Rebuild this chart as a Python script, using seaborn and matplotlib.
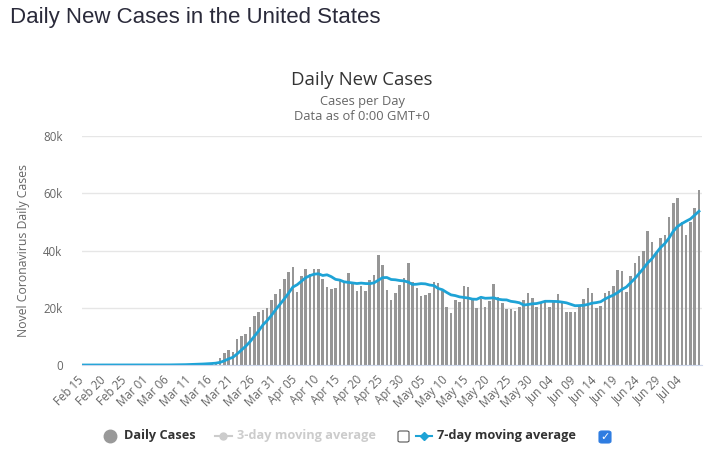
import numpy as np
import pandas as pd
import seaborn as sns
import matplotlib.pyplot as plt
import matplotlib.transforms as mtransforms
from matplotlib.lines import Line2D
from matplotlib.patches import FancyBboxPatch

# Daily new cases in the US, Feb 15 - Jul 8 2020
cases_feb = [0, 0, 0, 0, 0, 0, 2, 0, 0, 18, 0, 6, 1, 2, 8]
cases_mar = [8, 21, 23, 32, 70, 70, 110, 120, 180, 290, 360, 420, 500, 560, 650,
             850, 1200, 2300, 4200, 5200, 4500, 9100, 10000, 10700, 13300, 17100,
             18500, 19200, 19800, 22700, 24800]
cases_apr = [26500, 30000, 32500, 34200, 25500, 31100, 33500, 31800, 33500, 33500,
             30000, 27200, 26500, 26900, 30000, 29300, 32100, 28600, 25800, 27600,
             25800, 29700, 31400, 38400, 34900, 26200, 22700, 25100, 27900, 30400]
cases_may = [35600, 29000, 26900, 24100, 24500, 25100, 29000, 28600, 25800, 20300,
             18200, 22700, 22000, 27600, 27200, 23100, 19900, 23100, 20300, 22400,
             28300, 23800, 21700, 19600, 19600, 18900, 20300, 22700, 25100, 23400,
             20300]
cases_jun = [22000, 22000, 20300, 22400, 24800, 22000, 18500, 18500, 18500, 20600,
             23100, 26900, 25100, 19900, 20600, 25100, 25800, 27600, 33200, 32800,
             25500, 31100, 35600, 38100, 39800, 46800, 43000, 39500, 44400, 45400]
cases_jul = [51700, 56600, 58300, 49900, 45400, 49900, 54800, 61100]

dates = pd.date_range("2020-02-15", "2020-07-08", freq="D")
cases = cases_feb + cases_mar + cases_apr + cases_may + cases_jun + cases_jul

df = pd.DataFrame({"date": dates.strftime("%b %d"), "cases": cases})
df["idx"] = np.arange(len(df))
df["avg7"] = df["cases"].rolling(7, min_periods=1).mean()

W, H = 713, 455
fig = plt.figure(figsize=(W / 100, H / 100), dpi=100)
ax = fig.add_axes([82 / W, 90 / H, 620 / W, 229 / H])

def px(x, y):
    return x / W, 1 - y / H

sns.barplot(data=df, x="date", y="cases", color="#969696", saturation=1,
            width=0.6, ax=ax)
sns.lineplot(data=df, x="idx", y="avg7", color="#1ea3d6", linewidth=2.0, ax=ax)

ax.set_xlim(-0.3, 144.7)
ax.set_ylim(0, 80000)
ax.set_yticks([0, 20000, 40000, 60000, 80000])
ax.set_yticklabels(["0", "20k", "40k", "60k", "80k"])
ticks = list(range(0, len(df), 5))
ax.set_xticks(ticks)
ax.set_xticklabels(df["date"].iloc[ticks], rotation=45, ha="right",
                   rotation_mode="anchor")
ax.tick_params(axis="y", length=0, pad=14, labelsize=8.3, labelcolor="#666666")
ax.tick_params(axis="x", length=0, pad=6, labelsize=8.3, labelcolor="#666666")
for lab in ax.get_xticklabels() + ax.get_yticklabels():
    lab.set_family("Open Sans")
# nudge the rotated date labels left, like the original
shift = mtransforms.ScaledTranslation(-6 / 100, 0, fig.dpi_scale_trans)
for lab in ax.get_xticklabels():
    lab.set_transform(lab.get_transform() + shift)

ax.grid(axis="y", color="#e6e6e6", linewidth=1)
ax.set_axisbelow(True)
for s in ["top", "right", "left"]:
    ax.spines[s].set_visible(False)
ax.spines["bottom"].set_color("#ccd6eb")
ax.set_xlabel("")
ax.set_ylabel("Novel Coronavirus Daily Cases", fontsize=8.8, color="#666666",
              family="Open Sans")
ax.yaxis.set_label_coords(-0.084, 0.5)

# titles
fig.text(*px(10, 18), "Daily New Cases in the United States", fontsize=16,
         color="#2a2a3a", family="Liberation Sans", va="center", ha="left")
fig.text(*px(362, 80), "Daily New Cases", fontsize=13.4, color="#333333",
         family="Open Sans", ha="center", va="center")
fig.text(*px(362, 101), "Cases per Day", fontsize=9.3, color="#666666",
         family="Open Sans", ha="center", va="center")
fig.text(*px(362, 117), "Data as of 0:00 GMT+0", fontsize=9.3, color="#666666",
         family="Open Sans", ha="center", va="center")

# legend
ly = 436
fig.add_artist(Line2D([px(110, 0)[0]], [px(0, ly)[1]], marker="o",
                      markersize=9, color="#999999", linestyle="none"))
fig.text(*px(124, ly), "Daily Cases", fontsize=9.2, fontweight="bold",
         color="#333333", family="Open Sans", va="center")
fig.add_artist(Line2D([px(215, 0)[0], px(232, 0)[0]], [px(0, ly)[1]] * 2,
                      color="#cccccc", linewidth=1.5))
fig.add_artist(Line2D([px(223.5, 0)[0]], [px(0, ly)[1]], marker="o",
                      markersize=5, color="#cccccc"))
fig.text(*px(237, ly), "3-day moving average", fontsize=9.2, fontweight="bold",
         color="#cccccc", family="Open Sans", va="center")
fig.add_artist(FancyBboxPatch(px(398, 442), 11 / W, 11 / H,
                              boxstyle="round,pad=0,rounding_size=0.003",
                              facecolor="white", edgecolor="#555555",
                              linewidth=0.8, transform=fig.transFigure))
fig.add_artist(Line2D([px(416, 0)[0], px(432, 0)[0]], [px(0, ly)[1]] * 2,
                      color="#1ea3d6", linewidth=1.5))
fig.add_artist(Line2D([px(424, 0)[0]], [px(0, ly)[1]], marker="D",
                      markersize=4.5, color="#1ea3d6"))
fig.text(*px(437, ly), "7-day moving average", fontsize=9.2, fontweight="bold",
         color="#333333", family="Open Sans", va="center")
fig.add_artist(FancyBboxPatch(px(599, 443), 12 / W, 12 / H,
                              boxstyle="round,pad=0,rounding_size=0.004",
                              facecolor="#2f7de1", edgecolor="#2f7de1",
                              linewidth=0.8, transform=fig.transFigure))
fig.text(*px(605, 437), "\u2713", fontsize=8, color="white", fontweight="bold",
         family="DejaVu Sans", ha="center", va="center")

fig.savefig("out.png", dpi=100)
